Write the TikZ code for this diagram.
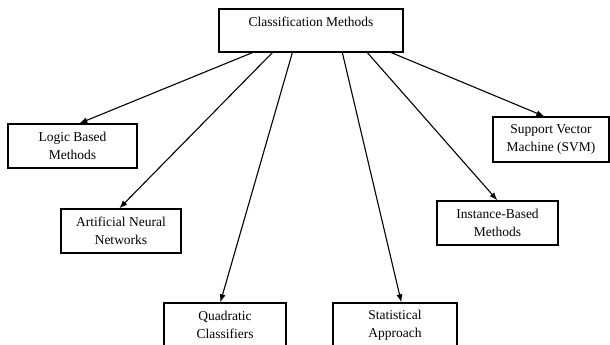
\documentclass[tikz,border=0pt]{standalone}
\usepackage{fontspec}
\setmainfont{Liberation Serif}
\usetikzlibrary{arrows.meta}
\begin{document}
\begin{tikzpicture}[x=1pt,y=-1pt,
  box/.style={draw=black, line width=1.3pt, fill=white, align=center, inner sep=2pt,
    font=\fontsize{13.5}{18}\selectfont},
  arr/.style={line width=1.1pt, -{Latex[length=8pt,width=6pt]}}]
\clip (0,0) rectangle (610,345);
\fill[white] (0,0) rectangle (610,345);
\node[box, minimum width=184pt, minimum height=43pt, text depth=17pt] (top) at (311,30.5) {Classification Methods};
\node[box, minimum width=129pt, minimum height=44pt] (logic) at (72.5,146) {Logic Based\\Methods};
\node[box, minimum width=120pt, minimum height=44pt] (ann) at (121,231) {Artificial Neural\\Networks};
\node[box, minimum width=122pt, minimum height=44pt] (quad) at (225,325) {Quadratic\\Classifiers};
\node[box, minimum width=124pt, minimum height=44pt] (stat) at (395,325) {Statistical\\Approach};
\node[box, minimum width=121pt, minimum height=44pt] (inst) at (497.5,223) {Instance-Based\\Methods};
\node[box, minimum width=116pt, minimum height=45pt] (svm) at (551,139.5) {Support Vector\\Machine (SVM)};
\draw[arr] ([xshift=34pt]top.south west) -- ([xshift=72pt]logic.north west);
\draw[arr] ([xshift=54pt]top.south west) -- ([xshift=59pt]ann.north west);
\draw[arr] ([xshift=74pt]top.south west) -- ([xshift=57pt]quad.north west);
\draw[arr] ([xshift=124pt]top.south west) -- ([xshift=69pt]stat.north west);
\draw[arr] ([xshift=149pt]top.south west) -- ([xshift=61pt]inst.north west);
\draw[arr] ([xshift=173pt]top.south west) -- ([xshift=52pt]svm.north west);
\end{tikzpicture}
\end{document}
